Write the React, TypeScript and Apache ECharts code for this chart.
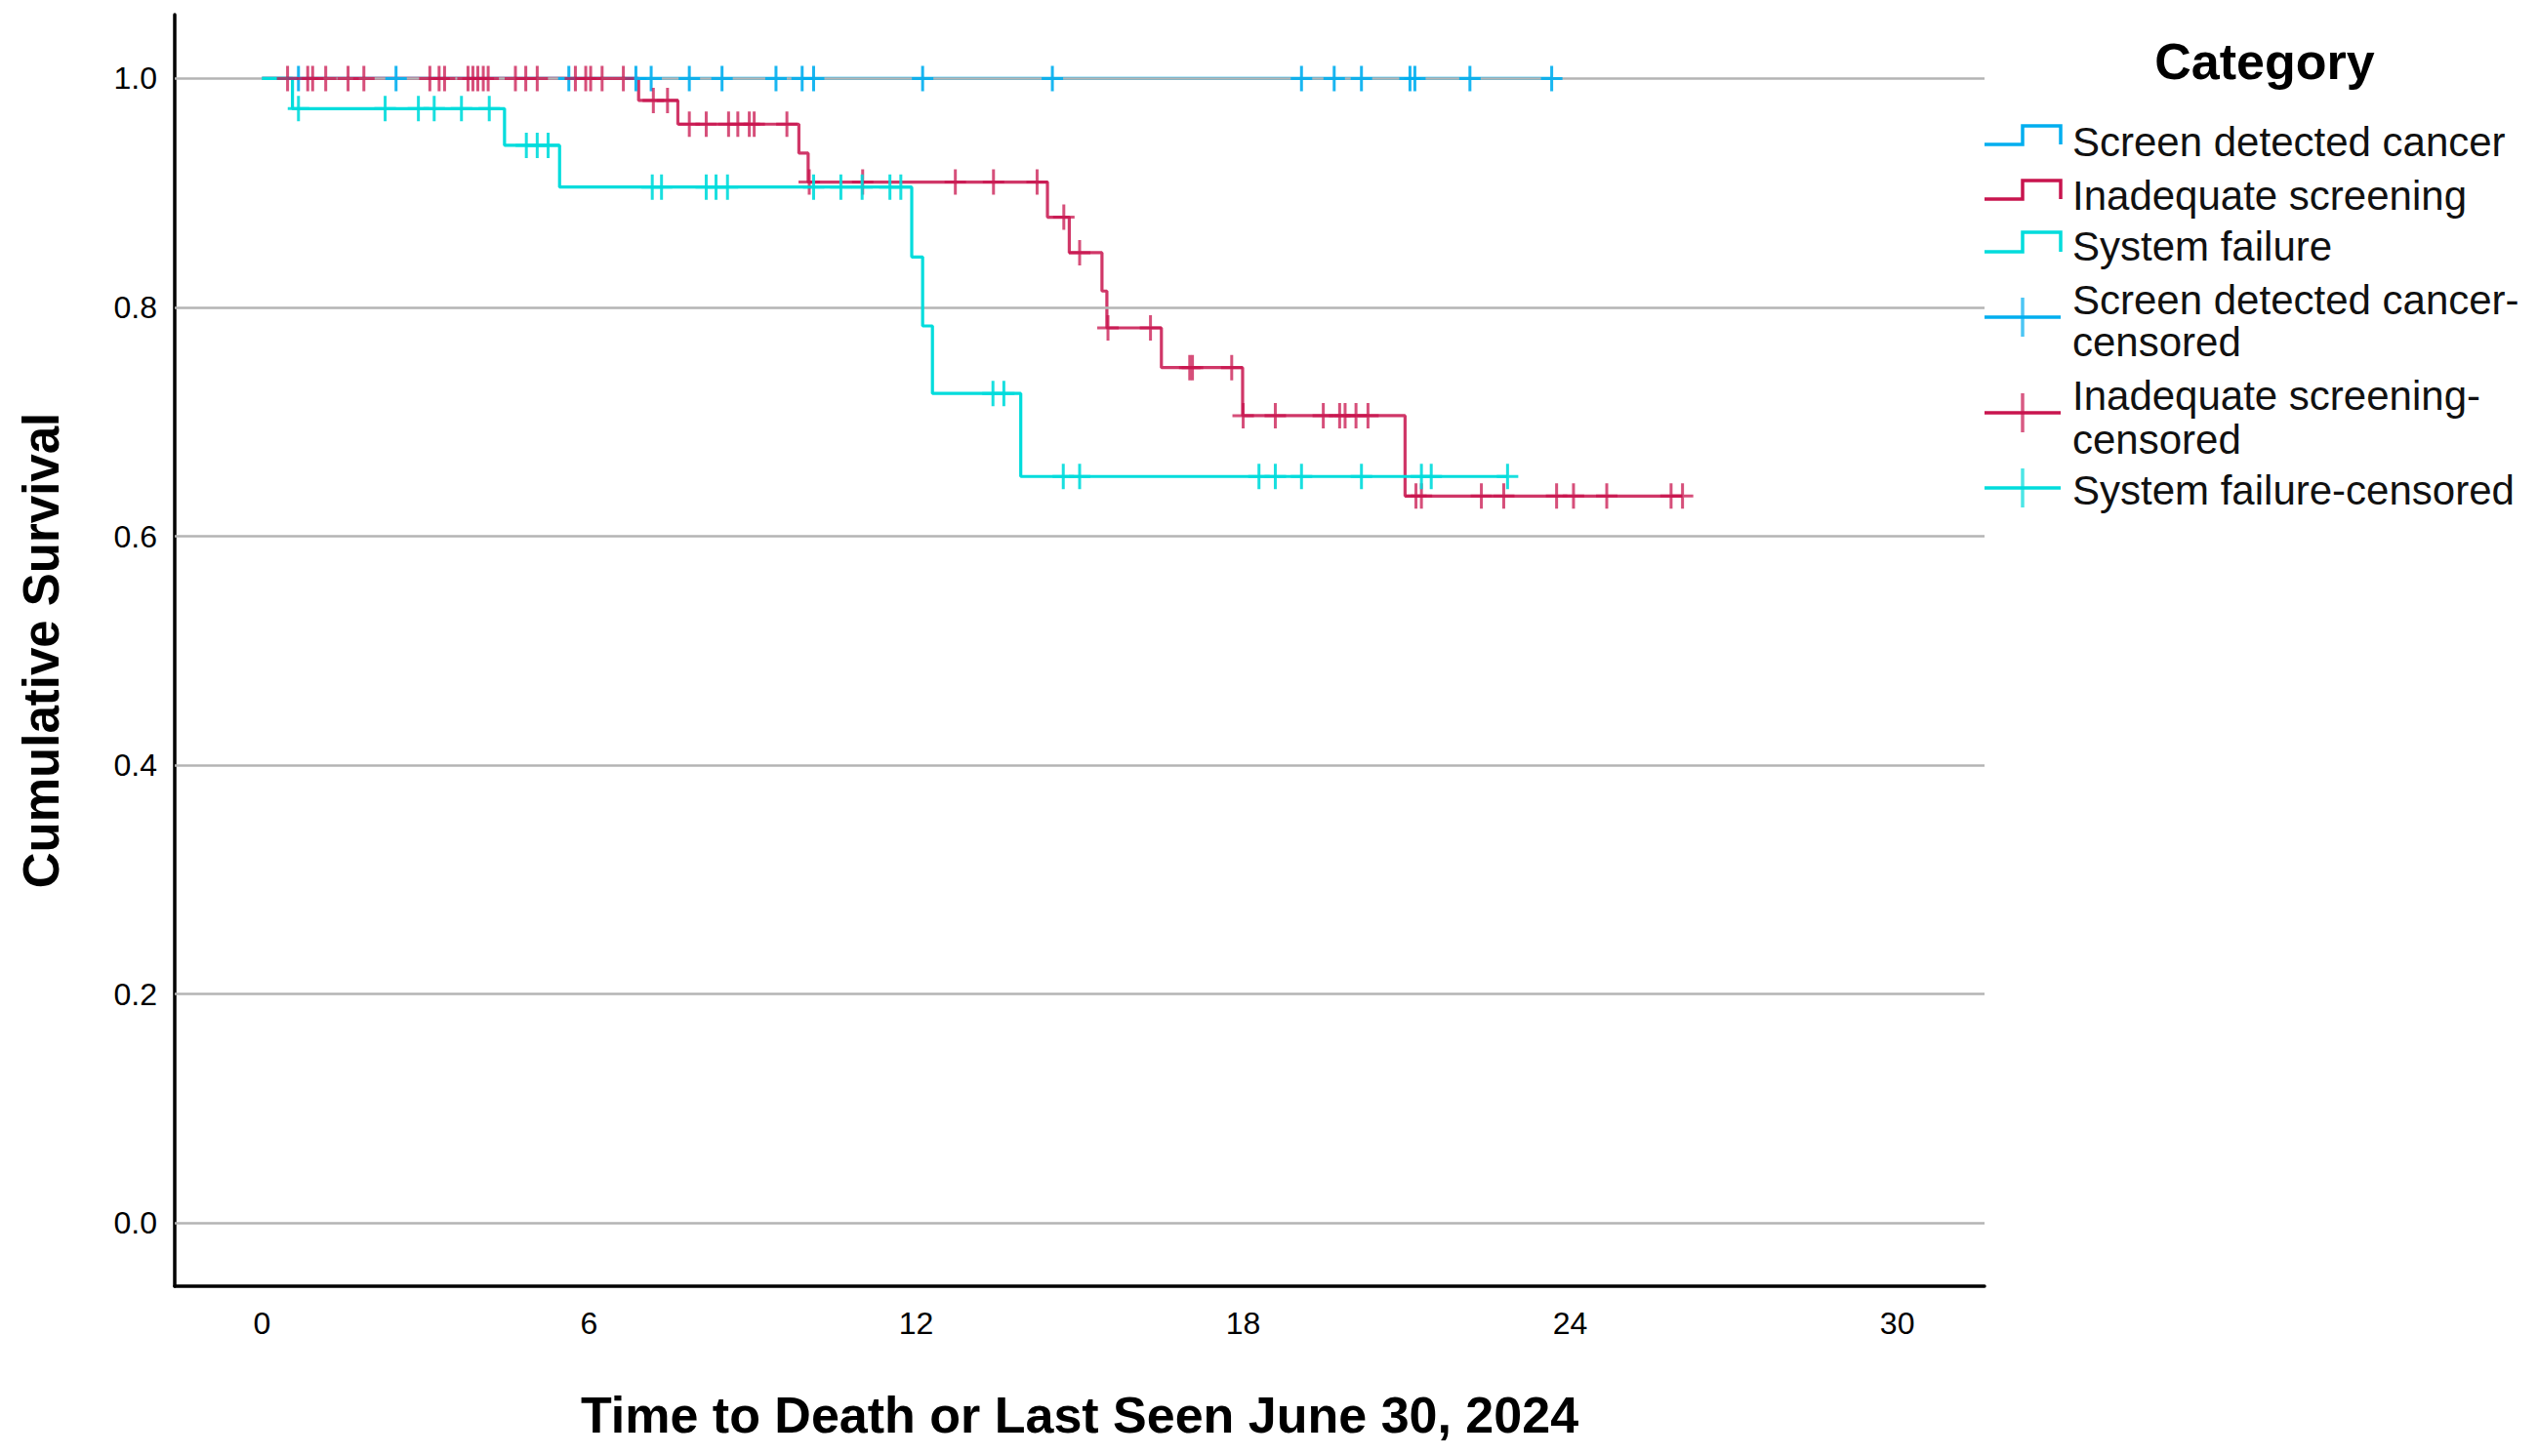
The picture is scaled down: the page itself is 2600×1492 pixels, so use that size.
import React, { useEffect, useRef } from "react";
import * as echarts from "echarts";

// ---------- data ----------
const groupNames = ["Screen detected cancer", "Inadequate screening", "System failure"];
const groupColors = ["#00AEEF", "#C8144E", "#00DCDC"];

const xTickLabels = [0, 6, 12, 18, 24, 30];
const yTickLabels = [0, 0.2, 0.4, 0.6, 0.8, 1.0];

// Screen detected cancer (no events)
const screenEventTimes = [0];
const screenSurvival = [1.0];
const screenEnd = 23.66;
const screenCensored = [0.67, 2.46, 5.63, 6.86, 7.14, 7.84, 8.44, 9.43, 9.91, 10.12, 12.12, 14.5, 19.07, 19.67, 20.17, 21.06, 21.15, 22.16, 23.66];

// Inadequate screening
const inadequateEventTimes = [0, 6.91, 7.63, 9.85, 10.02, 14.41, 14.81, 15.41, 15.5, 16.5, 17.99, 20.97];
const inadequateSurvival = [1.0, 0.9808, 0.9601, 0.9348, 0.9095, 0.8788, 0.8478, 0.8143, 0.7821, 0.7474, 0.7054, 0.6352];
const inadequateEnd = 26.06;
const inadequateCensored = [
  0.47, 0.84, 0.93, 1.17, 1.58, 1.87, 3.08, 3.25, 3.35, 3.78, 3.87, 3.96, 4.06, 4.15, 4.65, 4.84, 5.05, 5.75, 5.94, 6.03, 6.24, 6.63,
  7.18, 7.44,
  7.84, 8.15, 8.56, 8.73, 8.94, 9.03, 9.63,
  10.04, 11.02, 12.72, 13.42, 14.22,
  14.71,
  15.0,
  15.52, 16.3,
  17.02, 17.07, 17.79,
  18.0, 18.59, 19.47, 19.77, 19.87, 20.07, 20.29,
  21.17, 21.27, 22.37, 22.78, 23.75, 24.06, 24.67, 25.85, 26.06,
];

// System failure
const systemEventTimes = [0, 0.56, 4.45, 5.46, 11.92, 12.12, 12.3, 13.92];
const systemSurvival = [1.0, 0.9737, 0.9416, 0.9052, 0.8441, 0.7838, 0.7248, 0.6523];
const systemEnd = 22.85;
const systemCensored = [
  0.67, 2.26, 2.87, 3.16, 3.66, 4.17,
  4.85, 5.05, 5.25,
  7.16, 7.33, 8.15, 8.33, 8.54, 10.12, 10.62, 11.01, 11.52, 11.72,
  13.41, 13.61,
  14.7, 15.0, 18.29, 18.59, 19.07, 20.17, 21.27, 21.45, 22.85,
];

// ---------- helpers ----------
function curve(times: number[], surv: number[], end: number) {
  const pts = times.map((t, i) => [t, surv[i]]);
  pts.push([end, surv[surv.length - 1]]);
  return pts;
}
function levelAt(times: number[], surv: number[], t: number) {
  let s = surv[0];
  for (let i = 0; i < times.length; i++) if (times[i] <= t) s = surv[i];
  return s;
}
function marks(times: number[], surv: number[], cens: number[]) {
  return cens.map((t) => [t, levelAt(times, surv, t)]);
}

const FONT = "Liberation Sans";
const PLUS = "path://M9.5,0L12.5,0L12.5,11.5L22,11.5L22,14.5L12.5,14.5L12.5,26L9.5,26L9.5,14.5L0,14.5L0,11.5L9.5,11.5Z";

const curves = [
  curve(screenEventTimes, screenSurvival, screenEnd),
  curve(inadequateEventTimes, inadequateSurvival, inadequateEnd),
  curve(systemEventTimes, systemSurvival, systemEnd),
];
const censorSets = [
  marks(screenEventTimes, screenSurvival, screenCensored),
  marks(inadequateEventTimes, inadequateSurvival, inadequateCensored),
  marks(systemEventTimes, systemSurvival, systemCensored),
];

// legend graphic
function legendGraphics() {
  const els: any[] = [];
  els.push({
    type: "text",
    x: 2320,
    y: 63,
    style: { text: "Category", font: `bold 52px "${FONT}"`, fill: "#000", align: "center", verticalAlign: "middle" },
  });
  const stepY = [
    [148, 129],
    [204, 185],
    [258, 238],
  ];
  const textY = [145, 200, 252];
  for (let i = 0; i < 3; i++) {
    const [lo, hi] = stepY[i];
    els.push({
      type: "polyline",
      shape: { points: [[2033, lo], [2072, lo], [2072, hi], [2111, hi], [2111, lo]] },
      style: { stroke: groupColors[i], lineWidth: 3.5, fill: null },
    });
    els.push({
      type: "text",
      x: 2123,
      y: textY[i],
      style: { text: groupNames[i], font: `42px "${FONT}"`, fill: "#111", align: "left", verticalAlign: "middle" },
    });
  }
  const crossY = [325, 423, 500];
  const crossText = [
    [["Screen detected cancer-", 307.5], ["censored", 350]],
    [["Inadequate screening-", 405], ["censored", 450]],
    [["System failure-censored", 502.5]],
  ] as [string, number][][];
  for (let i = 0; i < 3; i++) {
    const cy = crossY[i];
    els.push({ type: "line", shape: { x1: 2033, y1: cy, x2: 2111, y2: cy }, style: { stroke: groupColors[i], lineWidth: 3.5 } });
    els.push({ type: "line", shape: { x1: 2072, y1: cy - 20, x2: 2072, y2: cy + 20 }, style: { stroke: groupColors[i], lineWidth: 3.5, opacity: 0.7 } });
    for (const [t, y] of crossText[i]) {
      els.push({
        type: "text",
        x: 2123,
        y,
        style: { text: t, font: `42px "${FONT}"`, fill: "#111", align: "left", verticalAlign: "middle" },
      });
    }
  }
  return els;
}

const option: any = {
  animation: false,
  backgroundColor: "#fff",
  grid: { left: 179, right: 567, top: 15, bottom: 174, containLabel: false },
  xAxis: {
    type: "value",
    min: -1.6,
    max: 31.6,
    name: "Time to Death or Last Seen June 30, 2024",
    nameLocation: "middle",
    nameGap: 106,
    nameTextStyle: { fontFamily: FONT, fontSize: 52, fontWeight: "bold", color: "#000" },
    axisLine: { show: true, onZero: false, lineStyle: { color: "#000", width: 3.5 } },
    axisTick: { show: false },
    splitLine: { show: false },
    axisLabel: {
      customValues: xTickLabels,
      margin: 22,
      fontFamily: FONT,
      fontSize: 32,
      color: "#000",
      formatter: (v: number) => String(v),
    },
  },
  yAxis: {
    type: "value",
    min: -0.0552,
    max: 1.0558,
    name: "Cumulative Survival",
    nameLocation: "middle",
    nameRotate: 90,
    nameGap: 111,
    nameTextStyle: { fontFamily: FONT, fontSize: 51, fontWeight: "bold", color: "#000" },
    axisLine: { show: true, onZero: false, lineStyle: { color: "#000", width: 3.5 } },
    axisTick: { show: false },
    splitLine: { show: false },
    axisLabel: {
      customValues: yTickLabels,
      margin: 18,
      fontFamily: FONT,
      fontSize: 32,
      color: "#000",
      formatter: (v: number) => v.toFixed(1),
    },
  },
  series: [
    {
      name: "grid",
      type: "line",
      data: [],
      z: 1,
      silent: true,
      markLine: {
        silent: true,
        symbol: ["none", "none"],
        label: { show: false },
        lineStyle: { color: "#b4b4b4", width: 2.5, type: "solid" },
        data: yTickLabels.map((v) => ({ yAxis: v })),
      },
    },
    ...[0, 2, 1].map((i) => ({
      name: groupNames[i],
      type: "line",
      step: "end",
      data: curves[i],
      showSymbol: false,
      symbol: "none",
      z: 3 + i,
      lineStyle: { color: groupColors[i], width: 3.2, opacity: i === 1 ? 0.85 : 1 },
      itemStyle: { color: groupColors[i] },
    })),
    ...[0, 2, 1].map((i) => ({
      name: groupNames[i] + "-censored",
      type: "scatter",
      data: censorSets[i],
      symbol: PLUS,
      symbolSize: [22, 26],
      z: 6 + i,
      itemStyle: { color: groupColors[i], opacity: i === 1 ? 0.75 : 0.9 },
    })),
  ],
  graphic: legendGraphics(),
};

export default function App() {
  const ref = useRef<HTMLDivElement>(null);
  useEffect(() => {
    const chart = echarts.init(ref.current!, null, { renderer: "svg" });
    chart.setOption(option);
    return () => chart.dispose();
  }, []);
  return (
    <div
      ref={ref}
      style={{ position: "fixed", left: 0, top: 0, width: 2600, height: 1492, background: "#fff" }}
    />
  );
}
